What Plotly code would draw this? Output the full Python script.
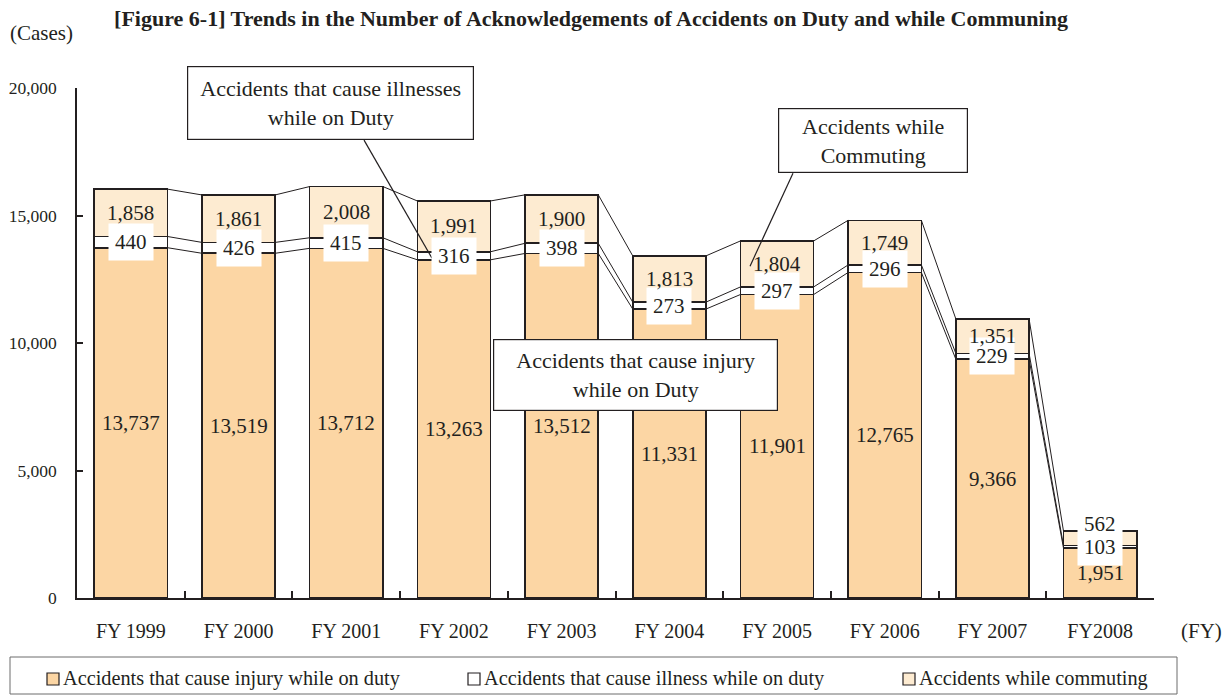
import plotly.graph_objects as go

# ---------------- data ----------------
years = ["FY 1999", "FY 2000", "FY 2001", "FY 2002", "FY 2003",
         "FY 2004", "FY 2005", "FY 2006", "FY 2007", "FY2008"]
injury = [13737, 13519, 13712, 13263, 13512, 11331, 11901, 12765, 9366, 1951]
illness = [440, 426, 415, 316, 398, 273, 297, 296, 229, 103]
commuting = [1858, 1861, 2008, 1991, 1900, 1813, 1804, 1749, 1351, 562]

series_names = ["Accidents that cause injury while on duty",
                "Accidents that cause illness while on duty",
                "Accidents while commuting"]

# ---------------- style / layout ----------------
FONT = "Liberation Serif"
INK = "#231F20"
C_INJ = "#FCD6A4"
C_ILL = "#FFFFFF"
C_COM = "#FDEBD1"
colors = [C_INJ, C_ILL, C_COM]
BAR_W = 0.68
OFF = 8                      # page body margin
W, H = 1232 - OFF, 696 - OFF
# plot area in page pixels: x 77..1154, y 88..598
ML, MT = 77 - OFF, 88 - OFF
MR, MB = W - (1154 - OFF), H - (598 - OFF)
PW, PH = W - ML - MR, H - MT - MB


def px_x(px):
    """page pixel x -> paper coordinate"""
    return (px - OFF - ML) / PW


def px_y(py):
    """page pixel y -> paper coordinate"""
    return (H - MB - (py - OFF)) / PH


fig = go.Figure()
for name, vals, col in zip(series_names, [injury, illness, commuting], colors):
    fig.add_trace(go.Bar(
        x=years, y=vals, name=name, width=BAR_W, showlegend=False,
        marker=dict(color=col, line=dict(color=INK, width=1.6)),
        hoverinfo="skip",
    ))

n = len(years)
lvl1 = injury
lvl2 = [a + b for a, b in zip(injury, illness)]
lvl3 = [a + b + c for a, b, c in zip(injury, illness, commuting)]

shapes = []
# connector lines between bars
for lv in (lvl1, lvl2, lvl3):
    for i in range(n - 1):
        shapes.append(dict(type="line", xref="x", yref="y",
                           x0=i + BAR_W / 2, y0=lv[i], x1=i + 1 - BAR_W / 2, y1=lv[i + 1],
                           line=dict(color=INK, width=1), layer="above"))

# callout leader lines
shapes.append(dict(type="line", xref="x", yref="y", x0=2.165, y0=17954, x1=2.796, y1=13328,
                   line=dict(color=INK, width=1.2), layer="above"))
shapes.append(dict(type="line", xref="x", yref="y", x0=6.148, y0=16660, x1=5.749, y1=13014,
                   line=dict(color=INK, width=1.2), layer="above"))

# legend frame
shapes.append(dict(type="rect", xref="paper", yref="paper",
                   x0=px_x(10), x1=px_x(1177), y0=px_y(694), y1=px_y(657),
                   line=dict(color="#6d6d6d", width=1), fillcolor="rgba(0,0,0,0)"))

annotations = []
lab_font = dict(family=FONT, size=21, color=INK)
# injury labels
for i in range(n):
    annotations.append(dict(x=i, y=injury[i] / 2, xref="x", yref="y", text=f"{injury[i]:,}",
                            showarrow=False, font=lab_font))
# illness labels (white boxes)
for i in range(n):
    annotations.append(dict(x=i, y=injury[i] + illness[i] / 2, xref="x", yref="y",
                            text=f"{illness[i]:,}", showarrow=False, font=lab_font,
                            bgcolor="white", borderpad=6))
# commuting labels (drawn over the white boxes)
for i in range(n):
    seg_mid = lvl2[i] + commuting[i] / 2
    ys = 14 if commuting[i] < 1000 else 0
    annotations.append(dict(x=i, y=seg_mid, xref="x", yref="y", text=f"{commuting[i]:,}",
                            showarrow=False, font=lab_font, yshift=ys))

# callout boxes
call_font = dict(family=FONT, size=22, color=INK)
box = dict(showarrow=False, font=call_font, bgcolor="white", bordercolor=INK,
           borderwidth=1.2, borderpad=2, xref="x", yref="y")
annotations.append(dict(x=1.857, y=19404, text="Accidents that cause illnesses<br>while on Duty",
                        width=281, height=68, **box))
annotations.append(dict(x=6.891, y=17934, text="Accidents while<br>Commuting",
                        width=184, height=59, **box))
annotations.append(dict(x=4.686, y=8742, text="Accidents that cause injury<br>while on Duty",
                        width=279, height=66, **box))

# axis unit labels
annotations.append(dict(x=px_x(41.5), y=px_y(33), xref="paper", yref="paper", text="(Cases)",
                        xanchor="center", yanchor="middle",
                        showarrow=False, font=dict(family=FONT, size=21, color=INK)))
annotations.append(dict(x=px_x(1201), y=px_y(631), xref="paper", yref="paper", text="(FY)",
                        xanchor="center", yanchor="middle",
                        showarrow=False, font=dict(family=FONT, size=21, color=INK)))

# custom legend (squares + text) in one framed row
leg_sq_x = [47, 468, 903]
leg_font = dict(family=FONT, size=20.3, color=INK)
for sx, name, col in zip(leg_sq_x, series_names, colors):
    shapes.append(dict(type="rect", xref="paper", yref="paper",
                       x0=px_x(sx), x1=px_x(sx + 12), y0=px_y(685), y1=px_y(673),
                       line=dict(color=INK, width=1.2), fillcolor=col))
    annotations.append(dict(x=px_x(sx + 14), y=px_y(679), xref="paper", yref="paper",
                            xanchor="left", yanchor="middle", text=name, showarrow=False,
                            font=leg_font))

fig.update_layout(
    barmode="stack",
    width=W, height=H,
    margin=dict(l=ML, r=MR, t=MT, b=MB, autoexpand=False),
    paper_bgcolor="white", plot_bgcolor="white",
    font=dict(family=FONT, size=20, color=INK),
    showlegend=False,
    title=dict(text="<b>[Figure 6-1] Trends in the Number of Acknowledgements of Accidents on Duty and while Communing</b>",
               x=(591 - OFF) / W, xanchor="center", y=1 - (18 - OFF) / H, yanchor="middle",
               font=dict(family=FONT, size=22, color=INK)),
    xaxis=dict(type="category", range=[-0.5, n - 0.5], showline=True, linecolor=INK, linewidth=1.5,
               ticks="inside", tickson="boundaries", ticklen=7, tickcolor=INK, tickwidth=1.5,
               showgrid=False, automargin=False, ticklabelstandoff=14,
               tickfont=dict(family=FONT, size=20, color=INK)),
    yaxis=dict(range=[0, 20000], dtick=5000, tickformat=",", showline=True, linecolor=INK,
               linewidth=1.5, ticks="inside", ticklen=6, tickcolor=INK, tickwidth=1.5,
               showgrid=False, zeroline=False, ticklabelstandoff=15, automargin=False,
               tickfont=dict(family=FONT, size=17.5, color=INK)),
    shapes=shapes,
    annotations=annotations,
)

fig.write_html("out.html")
